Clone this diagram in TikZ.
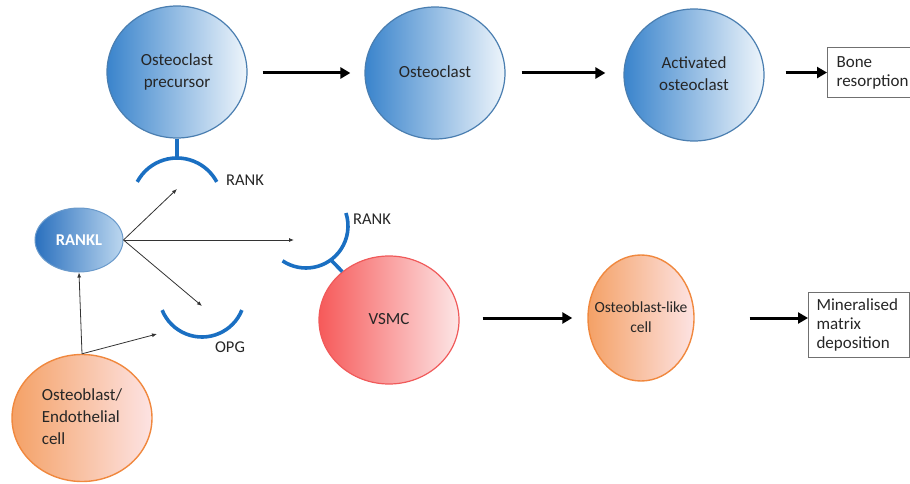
\documentclass[tikz,border=0pt]{standalone}
\usepackage{fontspec}
\setmainfont{Carlito}
\usetikzlibrary{arrows.meta,shapes.geometric,calc}
\definecolor{bluedark}{HTML}{3A84CC}
\definecolor{bluelight}{HTML}{EEF5FB}
\definecolor{blueborder}{HTML}{4A7EB0}
\definecolor{rankldark}{HTML}{2A70BE}
\definecolor{rankllight}{HTML}{BCD7EF}
\definecolor{ranklborder}{HTML}{6A9ACB}
\definecolor{orangeborder}{HTML}{F0883E}
\definecolor{orangeleft}{HTML}{F4A166}
\definecolor{orangemid}{HTML}{F9D0AE}
\definecolor{orangeright}{HTML}{FDE3E3}
\definecolor{redborder}{HTML}{F05A5A}
\definecolor{redleft}{HTML}{F65A5A}
\definecolor{redright}{HTML}{FDE6E6}
\definecolor{recblue}{HTML}{1A6FC2}
\definecolor{txt}{HTML}{262626}
\definecolor{boxborder}{HTML}{707070}
\newcommand{\celltxt}[2][c]{\makebox[0pt][c]{\begin{tabular}{@{}#1@{}}#2\end{tabular}}}
\tikzset{
  cellfont/.style={font=\fontsize{17}{21.7}\selectfont, text=txt},
  bluecell/.style={ellipse, draw=blueborder, line width=1.2pt, left color=bluedark, right color=bluelight,
    minimum width=140pt, minimum height=132pt, inner sep=0pt, cellfont},
  orangecell/.style={ellipse, draw=orangeborder, line width=1.4pt, left color=orangeleft, middle color=orangemid, right color=orangeright,
    inner sep=0pt, cellfont},
  redcell/.style={ellipse, draw=redborder, line width=1.2pt, left color=redleft, right color=redright,
    minimum width=140pt, minimum height=128pt, inner sep=0pt, cellfont},
  outbox/.style={rectangle, draw=boxborder, line width=1.1pt, fill=white, anchor=north west, align=left,
    inner sep=0pt, font=\fontsize{17}{19}\selectfont, text=txt},
  bigarrow/.style={line width=3pt, -{Triangle[length=10pt,width=11pt]}},
  thinarrow/.style={line width=0.8pt, draw=black!80, -{Latex[length=5pt,width=4pt]}},
  receptor/.style={line width=3.6pt, draw=recblue},
  reclabel/.style={font=\fontsize{16.5}{19}\selectfont, text=txt}
}
\begin{document}
\begin{tikzpicture}[x=1pt,y=-1pt]
\useasboundingbox (0,0) rectangle (910,484);
\clip (0,0) rectangle (910,484);

% top row
\node[bluecell] (prec) at (177,72) {\celltxt{Osteoclast\\precursor}};
\node[bluecell] (oc) at (435,73) {\celltxt{Osteoclast}};
\node[bluecell] (act) at (694,75) {\celltxt{Activated\\osteoclast}};
\node[outbox, minimum width=92pt, minimum height=50pt] (bone) at (827,47)
  {\hspace*{6pt}\parbox[c][50pt][c]{80pt}{Bone\\resorption}};

\draw[bigarrow, shorten <=15pt, shorten >=14pt] (prec.east |- oc.east) -- (oc.west);
\draw[bigarrow, shorten <=16pt, shorten >=18pt] (oc.east) -- (oc.east -| act.west);
\draw[bigarrow, shorten <=21pt] (act.east |- bone.west) -- (bone.west);

% RANKL
\node[ellipse, draw=ranklborder, line width=1pt, left color=rankldark, right color=rankllight,
  minimum width=88pt, minimum height=64pt, inner sep=0pt, text=white,
  font=\fontsize{16.5}{19}\selectfont\bfseries] (rankl) at (79,240) {RANKL};

% lower row
\node[redcell] (vsmc) at (389,320) {\celltxt{VSMC}};
\node[orangecell, minimum width=106pt, minimum height=126pt, font=\fontsize{15.5}{20}\selectfont] (oblike) at (641,318) {\celltxt{Osteoblast-like\\cell}};
\node[outbox, minimum width=101pt, minimum height=65pt] (mbox) at (808,292)
  {\hspace*{7pt}\parbox[c][65pt][c]{92pt}{Mineralised\\matrix\\deposition}};
\node[orangecell, minimum width=140pt, minimum height=127pt] (obl) at (82,418)
  {\celltxt[l]{Osteoblast/\\Endothelial\\cell}};

\draw[bigarrow, shorten <=23pt, shorten >=15pt] (vsmc.east |- oblike.east) -- (oblike.west);
\draw[bigarrow, shorten <=55pt] (oblike.east) -- (oblike.east -| mbox.west);

% receptors
\coordinate (rank1top) at (177,158);
\coordinate (rank2mid) at (331,260);
\draw[receptor] (prec) -- (rank1top);
\draw[receptor] (177,203) ++(208:45) arc[start angle=208, end angle=332, radius=45];
\draw[receptor] (rank2mid) -- (vsmc);
\draw[receptor] (306,226) ++(124:42) arc[start angle=124, end angle=-18, radius=42];
\draw[receptor] (202,294) ++(22:43) arc[start angle=22, end angle=158, radius=43];

\node[reclabel] (lrank1) at (245,180) {RANK};
\node[reclabel] (lrank2) at (372,219) {RANK};
\node[reclabel] (lopg) at (230,347) {OPG};

% thin arrows
\coordinate (t1) at (177,189);
\coordinate (t2) at (294,240);
\coordinate (t3) at (202,306);
\coordinate (t4) at (157,334);
\draw[thinarrow] (rankl.east) -- (t1);
\draw[thinarrow] (rankl.east) -- (t2);
\draw[thinarrow] (rankl.east) -- (t3);
\draw[thinarrow] (obl.north) -- (rankl.south);
\draw[thinarrow] (obl.north) -- (t4);
\end{tikzpicture}
\end{document}
